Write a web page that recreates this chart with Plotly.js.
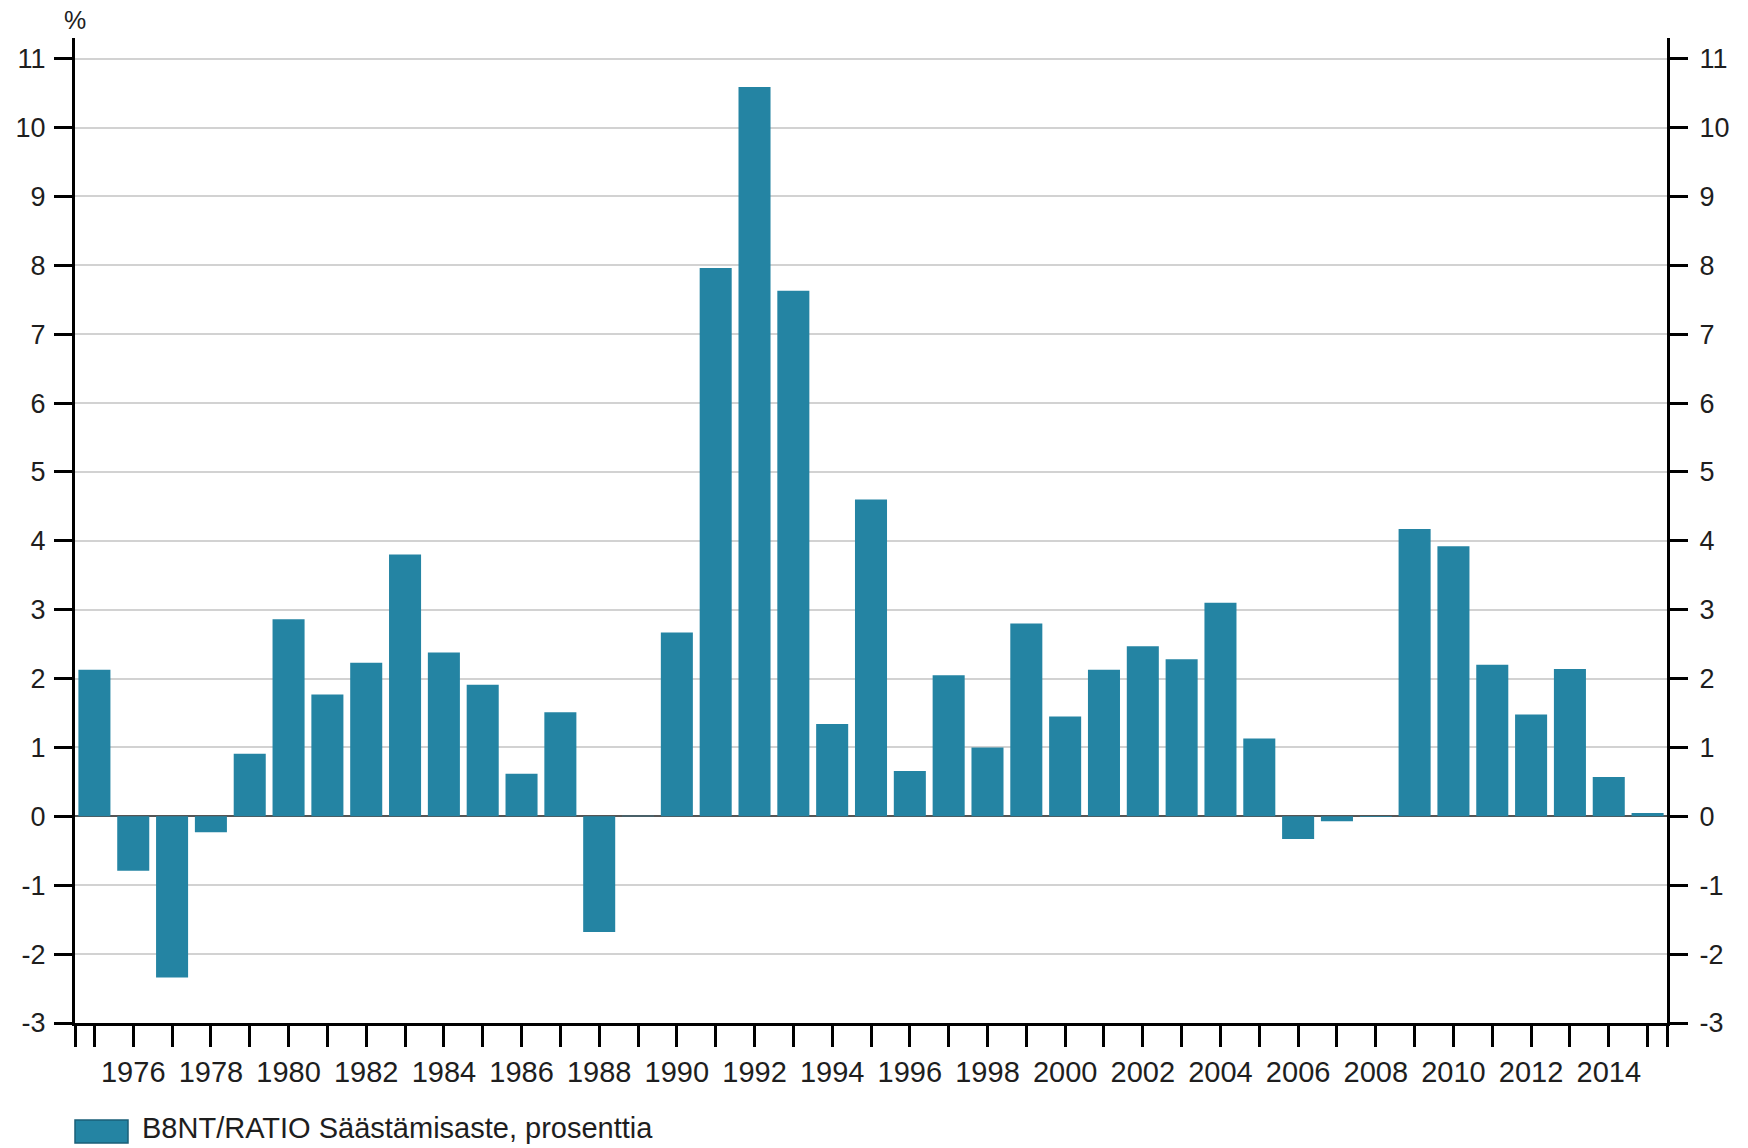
<!DOCTYPE html>
<html>
<head>
<meta charset="utf-8">
<script src="https://cdn.plot.ly/plotly-3.0.1.min.js"></script>
<style>
  html, body { margin: 0; padding: 0; background: #ffffff; }
  #chart { width: 1748px; height: 1148px; }
</style>
</head>
<body>
<div id="chart"></div>
<script>
// ---- data ----
const years = [1975,1976,1977,1978,1979,1980,1981,1982,1983,1984,1985,1986,1987,1988,1989,
               1990,1991,1992,1993,1994,1995,1996,1997,1998,1999,2000,2001,2002,2003,2004,
               2005,2006,2007,2008,2009,2010,2011,2012,2013,2014,2015];
const savingRate = [2.13,-0.79,-2.34,-0.23,0.91,2.86,1.77,2.23,3.80,2.38,1.91,0.62,1.51,-1.68,0.01,
                    2.67,7.96,10.59,7.63,1.34,4.60,0.66,2.05,1.00,2.80,1.45,2.13,2.47,2.28,3.10,
                    1.13,-0.33,-0.07,-0.01,4.17,3.92,2.20,1.48,2.14,0.57,0.05];
const seriesName = "B8NT/RATIO Säästämisaste, prosenttia";
const unitLabel = "%";
const yTicks = [-3,-2,-1,0,1,2,3,4,5,6,7,8,9,10,11];
const yTickText = ["-3","-2","-1","0","1","2","3","4","5","6","7","8","9","10","11"];
const labeledYears = [1976,1978,1980,1982,1984,1986,1988,1990,1992,1994,1996,1998,2000,2002,2004,2006,2008,2010,2012,2014];

// ---- tick arrays built from data ----
const xTickVals = [years[0] - 0.5].concat(years, [years[years.length - 1] + 0.5]);
const xTickText = xTickVals.map(v => labeledYears.includes(v) ? String(v) : "");

const barColor = "#2484a3";
const font = "Liberation Sans, Arial, sans-serif";
const textColor = "#1e1e1e";

const traces = [
  {
    type: "bar",
    x: years,
    y: savingRate,
    name: seriesName,
    marker: { color: barColor, line: { width: 0 } },
    showlegend: false,
    hoverinfo: "x+y"
  },
  {
    type: "scatter",
    mode: "markers",
    x: years,
    y: savingRate,
    yaxis: "y2",
    marker: { opacity: 0 },
    showlegend: false,
    hoverinfo: "skip"
  }
];

const yCommon = {
  range: [-3, 11.3],
  tickmode: "array",
  tickvals: yTicks,
  ticktext: yTickText,
  ticks: "outside",
  ticklen: 18,
  tickwidth: 3,
  tickcolor: "#000",
  showline: true,
  linecolor: "#000",
  linewidth: 3,
  tickfont: { family: font, size: 27, color: textColor },
  fixedrange: true
};

const layout = {
  width: 1748,
  height: 1148,
  margin: { l: 75, r: 81, t: 38, b: 125 },
  paper_bgcolor: "#ffffff",
  plot_bgcolor: "#ffffff",
  bargap: 0.175,
  showlegend: false,
  font: { family: font, color: textColor },
  xaxis: {
    range: [years[0] - 0.5, years[years.length - 1] + 0.5],
    tickmode: "array",
    tickvals: xTickVals,
    ticktext: xTickText,
    ticks: "outside",
    ticklen: 21,
    tickwidth: 3,
    tickcolor: "#000",
    ticklabelstandoff: 0,
    showline: true,
    linecolor: "#000",
    linewidth: 3,
    showgrid: false,
    zeroline: false,
    tickfont: { family: font, size: 29, color: textColor },
    fixedrange: true
  },
  yaxis: Object.assign({}, yCommon, {
    side: "left",
    showgrid: true,
    gridcolor: "#d2d2d2",
    gridwidth: 2,
    zeroline: true,
    zerolinecolor: "#555",
    zerolinewidth: 2,
    ticklabelstandoff: 3
  }),
  yaxis2: Object.assign({}, yCommon, {
    side: "right",
    overlaying: "y",
    showgrid: false,
    zeroline: false,
    ticklabelstandoff: 6
  }),
  shapes: [
    {
      type: "rect",
      xref: "paper", yref: "paper",
      x0: 0, x1: 53 / 1592,
      y0: -120 / 985, y1: -97 / 985,
      fillcolor: barColor,
      line: { color: "#1a5f78", width: 1.5 }
    }
  ],
  annotations: [
    {
      xref: "paper", yref: "paper",
      x: 0, y: 1,
      xanchor: "center", yanchor: "bottom",
      yshift: 2,
      text: unitLabel,
      showarrow: false,
      font: { family: font, size: 25, color: textColor }
    },
    {
      xref: "paper", yref: "paper",
      x: 66 / 1592, y: -105 / 985,
      xanchor: "left", yanchor: "middle",
      borderpad: 0,
      text: seriesName,
      showarrow: false,
      font: { family: font, size: 29, color: textColor }
    }
  ]
};

Plotly.newPlot("chart", traces, layout, { staticPlot: true, displayModeBar: false });
</script>
</body>
</html>
